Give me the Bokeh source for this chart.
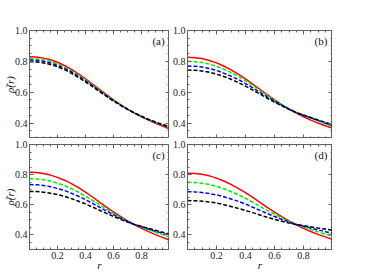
from bokeh.plotting import figure
from bokeh.layouts import gridplot
from bokeh.models import FixedTicker, PrintfTickFormatter, CustomJSTickFormatter, Label, LinearAxis
from bokeh.embed import file_html
from bokeh.resources import INLINE

# ---------------- data ----------------
r = [0.00, 0.05, 0.10, 0.15, 0.20, 0.25, 0.30, 0.35, 0.40, 0.45, 0.50,
     0.55, 0.60, 0.65, 0.70, 0.75, 0.80, 0.85, 0.90, 0.95, 1.00]

a_red = [0.830, 0.828, 0.821, 0.810, 0.794, 0.773, 0.748, 0.719, 0.687, 0.653, 0.618,
         0.584, 0.551, 0.520, 0.491, 0.465, 0.441, 0.419, 0.399, 0.381, 0.363]
a_green = [0.818, 0.816, 0.809, 0.799, 0.783, 0.763, 0.739, 0.711, 0.680, 0.647, 0.613,
           0.580, 0.548, 0.518, 0.490, 0.465, 0.443, 0.422, 0.403, 0.387, 0.370]
a_blue = [0.808, 0.806, 0.800, 0.789, 0.774, 0.754, 0.731, 0.703, 0.673, 0.641, 0.608,
          0.577, 0.546, 0.517, 0.490, 0.465, 0.443, 0.423, 0.405, 0.389, 0.373]
a_black = [0.798, 0.796, 0.790, 0.780, 0.765, 0.746, 0.723, 0.696, 0.667, 0.636, 0.604,
           0.573, 0.543, 0.515, 0.489, 0.465, 0.444, 0.424, 0.407, 0.391, 0.376]

b_red = [0.826, 0.824, 0.818, 0.806, 0.790, 0.770, 0.745, 0.717, 0.686, 0.652, 0.618,
         0.584, 0.551, 0.520, 0.491, 0.465, 0.441, 0.419, 0.400, 0.383, 0.367]
b_green = [0.800, 0.798, 0.792, 0.783, 0.768, 0.750, 0.728, 0.703, 0.675, 0.644, 0.612,
           0.580, 0.549, 0.520, 0.493, 0.468, 0.450, 0.432, 0.414, 0.396, 0.378]
b_blue = [0.770, 0.768, 0.763, 0.754, 0.741, 0.724, 0.704, 0.682, 0.656, 0.628, 0.599,
          0.570, 0.542, 0.516, 0.491, 0.468, 0.451, 0.434, 0.417, 0.400, 0.383]
b_black = [0.744, 0.742, 0.738, 0.729, 0.717, 0.702, 0.684, 0.663, 0.640, 0.614, 0.588,
           0.561, 0.536, 0.512, 0.489, 0.468, 0.452, 0.436, 0.420, 0.405, 0.389]

c_red = [0.815, 0.813, 0.807, 0.796, 0.781, 0.762, 0.739, 0.712, 0.682, 0.650, 0.616,
         0.583, 0.550, 0.520, 0.491, 0.465, 0.441, 0.419, 0.399, 0.381, 0.363]
c_green = [0.772, 0.770, 0.765, 0.756, 0.743, 0.726, 0.705, 0.682, 0.656, 0.628, 0.599,
           0.569, 0.541, 0.514, 0.489, 0.466, 0.449, 0.432, 0.415, 0.399, 0.383]
c_blue = [0.733, 0.731, 0.727, 0.719, 0.707, 0.693, 0.675, 0.655, 0.632, 0.607, 0.582,
          0.556, 0.532, 0.508, 0.487, 0.466, 0.452, 0.437, 0.422, 0.408, 0.393]
c_black = [0.687, 0.686, 0.682, 0.675, 0.666, 0.654, 0.639, 0.622, 0.604, 0.583, 0.562,
           0.541, 0.521, 0.501, 0.483, 0.467, 0.454, 0.441, 0.428, 0.415, 0.402]

d_red = [0.809, 0.807, 0.801, 0.791, 0.776, 0.757, 0.734, 0.708, 0.679, 0.647, 0.614,
         0.581, 0.549, 0.519, 0.491, 0.465, 0.441, 0.420, 0.401, 0.384, 0.367]
d_green = [0.748, 0.746, 0.742, 0.733, 0.721, 0.705, 0.687, 0.665, 0.642, 0.615, 0.588,
           0.561, 0.535, 0.511, 0.488, 0.467, 0.450, 0.434, 0.418, 0.403, 0.389]
d_blue = [0.685, 0.684, 0.680, 0.673, 0.664, 0.652, 0.637, 0.621, 0.603, 0.582, 0.561,
          0.540, 0.520, 0.501, 0.483, 0.467, 0.455, 0.443, 0.431, 0.419, 0.407]
d_black = [0.626, 0.625, 0.622, 0.617, 0.610, 0.599, 0.587, 0.574, 0.560, 0.546, 0.530,
           0.515, 0.501, 0.488, 0.477, 0.467, 0.459, 0.451, 0.443, 0.436, 0.428]

x_ticks = [0.2, 0.4, 0.6, 0.8]
y_ticks = [0.4, 0.6, 0.8, 1.0]
panel_labels = ["(a)", "(b)", "(c)", "(d)"]
y_label = "\u03c1\u0303(r)"
x_label = "r"

# ---------------- styling ----------------
FRAME = "#606060"
FONT = "Liberation Serif"
x_minor = [i * 0.05 for i in range(0, 21)]
y_minor = [0.3 + i * 0.05 for i in range(0, 15)]


def style_axis(ax, ticks, minor, show_labels):
    ax.ticker = FixedTicker(ticks=ticks, minor_ticks=minor)
    ax.axis_line_color = FRAME
    ax.major_tick_line_color = FRAME
    ax.minor_tick_line_color = FRAME
    ax.major_tick_in = 4
    ax.major_tick_out = 0
    ax.minor_tick_in = 2
    ax.minor_tick_out = 0
    if show_labels:
        ax.formatter = PrintfTickFormatter(format="%.1f")
        ax.major_label_text_font = FONT
        ax.major_label_text_font_size = "10px"
        ax.major_label_text_color = "#222222"
        ax.major_label_standoff = 2
    else:
        ax.formatter = CustomJSTickFormatter(code="return ''")
        ax.major_label_standoff = 0


def make_panel(idx, series, left_col, bottom_row):
    p = figure(
        width=169 if left_col else 163,
        height=135 if bottom_row else 138,
        x_range=(0, 1), y_range=(0.3, 1.0),
        output_backend="svg", toolbar_location=None,
        min_border_left=21 if left_col else 15,
        min_border_right=0,
        min_border_top=6 if bottom_row else 30,
        min_border_bottom=22 if bottom_row else 0,
        background_fill_color="white", border_fill_color="white",
    )
    p.outline_line_color = FRAME
    p.grid.visible = False
    xa = p.xaxis[0]
    ya = p.yaxis[0]
    style_axis(xa, x_ticks, x_minor, bottom_row)
    style_axis(ya, y_ticks, y_minor, True)
    top_ax = LinearAxis()
    style_axis(top_ax, x_ticks, x_minor, False)
    p.add_layout(top_ax, "above")
    right_ax = LinearAxis()
    style_axis(right_ax, y_ticks, y_minor, False)
    p.add_layout(right_ax, "right")
    if left_col:
        ya.axis_label = y_label
        ya.axis_label_text_font = FONT
        ya.axis_label_text_font_style = "italic"
        ya.axis_label_text_font_size = "11px"
        ya.axis_label_text_color = "#111111"
        ya.axis_label_standoff = -4
    if bottom_row:
        xa.axis_label = x_label
        xa.axis_label_text_font = FONT
        xa.axis_label_text_font_style = "italic"
        xa.axis_label_text_font_size = "11px"
        xa.axis_label_text_color = "#111111"
        xa.axis_label_standoff = -3

    red, green, blue, black = series
    p.line(r, red, line_color="#ff0000", line_width=1.5)
    p.line(r, green, line_color="#00ee00", line_width=1.5, line_dash="4 2")
    p.line(r, blue, line_color="#0000ff", line_width=1.5, line_dash="4 2")
    p.line(r, black, line_color="#000000", line_width=1.5, line_dash="4 2")

    p.add_layout(Label(x=0.965, y=0.93, text=panel_labels[idx], text_align="right",
                       text_baseline="middle", text_font=FONT, text_font_size="11px",
                       text_color="#111111"))
    return p


pa = make_panel(0, (a_red, a_green, a_blue, a_black), True, False)
pb = make_panel(1, (b_red, b_green, b_blue, b_black), False, False)
pc = make_panel(2, (c_red, c_green, c_blue, c_black), True, True)
pd = make_panel(3, (d_red, d_green, d_blue, d_black), False, True)

grid = gridplot([[pa, pb], [pc, pd]], toolbar_location=None)

open("out.html", "w").write(file_html(grid, INLINE))
